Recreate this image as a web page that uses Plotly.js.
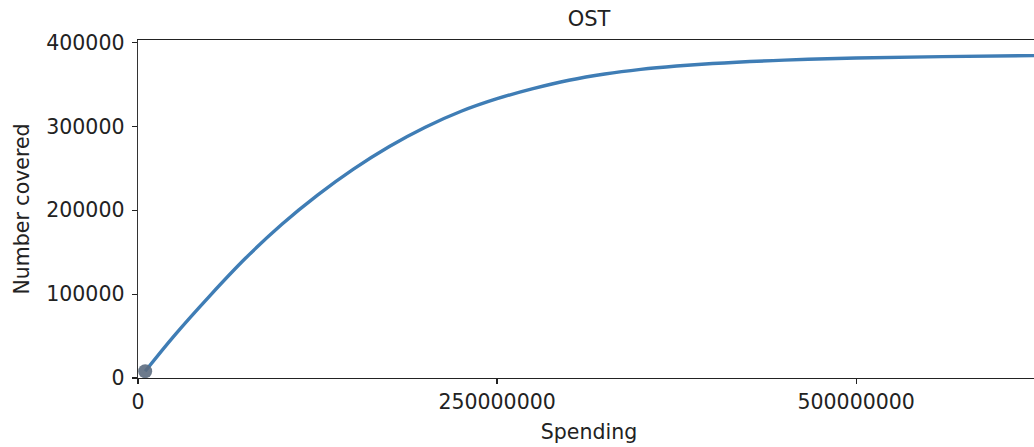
<!DOCTYPE html>
<html>
<head>
<meta charset="utf-8">
<script src="https://cdn.plot.ly/plotly-3.0.1.min.js"></script>
<style>
html, body { margin: 0; padding: 0; overflow: hidden; background: #fff; }
#chart { width: 1040px; height: 447px; }
</style>
</head>
<body>
<div id="chart"></div>
<script>
// Spending (currency units) and number covered
const spending = [5e6, 25e6, 50e6, 75e6, 100e6, 125e6, 150e6, 175e6, 200e6, 225e6, 250e6, 275e6, 300e6, 325e6, 350e6, 375e6, 400e6, 450e6, 500e6, 560e6, 630e6];
const covered  = [8000, 50000, 98000, 143000, 183000, 218000, 249000, 276000, 299000, 318000, 333000, 345000, 355000, 362500, 368000, 372000, 375000, 379000, 381500, 383200, 384500];
const startPointX = [5e6];
const startPointY = [8000];
const xTicks = [0, 250000000, 500000000];
const yTicks = [0, 100000, 200000, 300000, 400000];

const font = { family: 'DejaVu Sans, sans-serif', size: 20.5, color: '#222' };

const traces = [
  {
    x: spending, y: covered, type: 'scatter', mode: 'lines',
    line: { color: '#3f7db5', width: 3.4, shape: 'spline', smoothing: 1 },
    hoverinfo: 'skip', showlegend: false
  },
  {
    x: startPointX, y: startPointY, type: 'scatter', mode: 'markers',
    marker: { color: 'rgba(92,108,128,0.9)', size: 14 },
    hoverinfo: 'skip', showlegend: false, cliponaxis: false
  }
];

const layout = {
  width: 1040, height: 447,
  margin: { l: 138, r: 0, t: 40, b: 69 },
  paper_bgcolor: '#fff', plot_bgcolor: '#fff',
  font: font,
  showlegend: false,
  title: { text: 'OST', font: { family: font.family, size: 21, color: '#222' }, x: 0.5, xref: 'paper', y: 1 - 19/447, yref: 'container', yanchor: 'middle' },
  xaxis: {
    range: [0, 628e6],
    tickvals: xTicks, ticktext: xTicks.map(String),
    showgrid: false, zeroline: false,
    showline: true, linecolor: '#222', linewidth: 1.4, mirror: true,
    ticks: 'outside', ticklen: 5, tickwidth: 1.2, tickcolor: '#222',
    tickfont: font,
    title: { text: 'Spending', font: font, standoff: 11 }
  },
  yaxis: {
    range: [0, 403000],
    tickvals: yTicks, ticktext: yTicks.map(String),
    showgrid: false, zeroline: false,
    showline: true, linecolor: '#333', linewidth: 1.4, mirror: false,
    ticks: 'outside', ticklen: 5, tickwidth: 1.2, tickcolor: '#222',
    ticklabelstandoff: 3,
    tickfont: font,
    title: { text: 'Number covered', font: font, standoff: 11 }
  }
};

Plotly.newPlot('chart', traces, layout, { staticPlot: true, displayModeBar: false });
</script>
</body>
</html>
